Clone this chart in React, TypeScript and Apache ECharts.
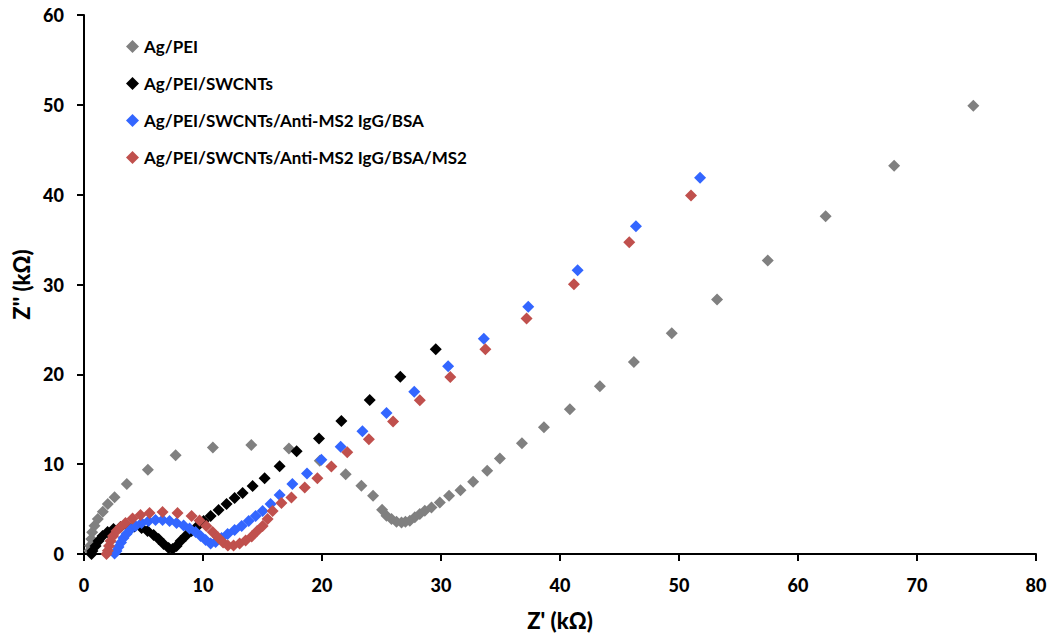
import React, { useEffect, useRef } from "react";
import * as echarts from "echarts";

const seriesNames = [
  "Ag/PEI",
  "Ag/PEI/SWCNTs",
  "Ag/PEI/SWCNTs/Anti-MS2 IgG/BSA",
  "Ag/PEI/SWCNTs/Anti-MS2 IgG/BSA/MS2",
];
const seriesColors = ["#808080", "#000000", "#3366FF", "#C0504D"];

const xTicks = [0, 10, 20, 30, 40, 50, 60, 70, 80];
const yTicks = [0, 10, 20, 30, 40, 50, 60];

const agPei: [number, number][] = [
  [0.46, 0.37], [0.52, 0.92], [0.61, 1.67], [0.69, 2.41], [0.88, 3.14], [1.16, 3.89],
  [1.58, 4.7], [2.0, 5.56], [2.57, 6.33], [3.6, 7.78], [5.37, 9.37], [7.7, 11.0],
  [10.83, 11.86], [14.06, 12.14], [17.22, 11.74], [19.81, 10.37], [21.99, 8.89],
  [23.31, 7.59], [24.29, 6.48], [25.05, 4.92], [25.42, 4.26], [25.84, 3.89],
  [26.26, 3.59], [26.68, 3.52], [27.01, 3.59], [27.38, 3.7], [27.8, 4.08],
  [28.22, 4.44], [28.64, 4.81], [29.2, 5.19], [29.9, 5.74], [30.68, 6.48],
  [31.64, 7.11], [32.7, 8.03], [33.88, 9.26], [34.95, 10.63], [36.8, 12.33],
  [38.65, 14.11], [40.83, 16.11], [43.35, 18.67], [46.21, 21.37], [49.39, 24.56],
  [53.2, 28.33], [57.46, 32.67], [62.32, 37.61], [68.08, 43.22], [74.73, 49.91],
];

const agPeiSwcnt: [number, number][] = [
  [0.63, 0.0], [0.71, 0.33], [0.97, 0.89], [1.22, 1.44], [1.56, 2.0], [1.98, 2.44],
  [2.48, 2.78], [3.07, 3.0], [3.66, 3.11], [4.25, 3.06], [4.84, 2.89], [5.34, 2.56],
  [5.85, 2.11], [6.27, 1.67], [6.69, 1.11], [7.11, 0.67], [7.44, 0.56], [7.78, 0.89],
  [8.12, 1.44], [8.54, 2.0], [9.04, 2.56], [9.55, 3.11], [10.05, 3.67], [10.64, 4.22],
  [11.31, 4.89], [11.98, 5.56], [12.66, 6.22], [13.33, 6.78], [14.17, 7.56],
  [15.18, 8.44], [16.44, 9.78], [17.87, 11.44], [19.75, 12.86], [21.63, 14.81],
  [24.01, 17.14], [26.58, 19.72], [29.56, 22.78],
];

const agPeiSwcntBsa: [number, number][] = [
  [2.57, 0.05], [2.73, 0.33], [2.9, 0.78], [3.11, 1.28], [3.32, 1.78], [3.57, 2.22],
  [3.91, 2.72], [4.33, 3.11], [4.84, 3.44], [5.42, 3.67], [6.01, 3.78], [6.6, 3.78],
  [7.19, 3.67], [7.78, 3.44], [8.37, 3.17], [8.87, 2.83], [9.38, 2.44], [9.8, 2.0],
  [10.22, 1.56], [10.64, 1.17], [11.06, 1.33], [11.56, 1.78], [12.07, 2.22],
  [12.66, 2.67], [13.25, 3.11], [13.84, 3.67], [14.42, 4.22], [15.01, 4.78],
  [15.68, 5.56], [16.44, 6.56], [17.51, 7.78], [18.74, 8.97], [19.95, 10.48],
  [21.57, 11.94], [23.4, 13.67], [25.42, 15.7], [27.75, 18.06], [30.6, 20.89],
  [33.6, 23.97], [37.33, 27.52], [41.48, 31.59], [46.38, 36.48], [51.77, 41.89],
];

const agPeiSwcntBsaMs2: [number, number][] = [
  [1.89, 0.0], [2.0, 0.37], [2.1, 0.89], [2.23, 1.44], [2.44, 2.0], [2.73, 2.56],
  [3.07, 3.0], [3.49, 3.44], [4.08, 3.94], [4.75, 4.33], [5.51, 4.56], [6.6, 4.67],
  [7.86, 4.56], [9.04, 4.22], [9.71, 3.72], [10.28, 3.11], [10.81, 2.44],
  [11.27, 1.83], [11.69, 1.28], [12.09, 0.94], [12.57, 0.94], [13.08, 1.17],
  [13.58, 1.5], [14.09, 1.94], [14.55, 2.56], [15.01, 3.11], [15.43, 3.89],
  [15.85, 4.78], [16.59, 5.67], [17.43, 6.3], [18.55, 7.41], [19.61, 8.44],
  [20.79, 9.74], [22.12, 11.33], [23.94, 12.78], [25.97, 14.74], [28.22, 17.11],
  [30.78, 19.69], [33.73, 22.78], [37.19, 26.22], [41.17, 30.03], [45.82, 34.7],
  [51.01, 39.92],
];

const allData = [agPei, agPeiSwcnt, agPeiSwcntBsa, agPeiSwcntBsaMs2];

const FONT = "Lato";

export default function App() {
  const ref = useRef<HTMLDivElement>(null);
  useEffect(() => {
    document.body.style.margin = "0";
    if (!ref.current) return;
    const chart = echarts.init(ref.current, undefined, { renderer: "svg" });
    const labelCommon = {
      fontFamily: FONT,
      fontWeight: 900,
      fontSize: 18,
      color: "#000",
    };
    const nameStyle = { fontFamily: FONT, fontWeight: 900, fontSize: 22, color: "#000" };
    const tick = { show: true, length: 7, lineStyle: { color: "#000", width: 2 } };
    const line = { show: true, lineStyle: { color: "#000", width: 2 } };
    chart.setOption({
      animation: false,
      backgroundColor: "#fff",
      textStyle: { fontFamily: FONT },
      grid: { left: 84, right: 26, top: 15, bottom: 81 },
      legend: {
        orient: "vertical",
        left: 121,
        top: 33,
        itemGap: 20,
        itemWidth: 13,
        itemHeight: 13,
        icon: "diamond",
        data: seriesNames,
        textStyle: { fontFamily: FONT, fontWeight: "bold", fontSize: 17, color: "#000" },
      },
      xAxis: {
        type: "value",
        min: xTicks[0],
        max: xTicks[xTicks.length - 1],
        interval: 10,
        name: "Z' (kΩ)",
        nameLocation: "middle",
        nameGap: 55,
        nameTextStyle: nameStyle,
        axisLine: line,
        axisTick: tick,
        splitLine: { show: false },
        axisLabel: {
          ...labelCommon,
          margin: 22,
          formatter: (v: number) => (xTicks.includes(v) ? String(v) : ""),
        },
      },
      yAxis: {
        type: "value",
        min: yTicks[0],
        max: yTicks[yTicks.length - 1],
        interval: 10,
        name: "Z'' (kΩ)",
        nameLocation: "middle",
        nameGap: 52,
        nameTextStyle: nameStyle,
        axisLine: line,
        axisTick: tick,
        splitLine: { show: false },
        axisLabel: {
          ...labelCommon,
          margin: 20,
          formatter: (v: number) => (yTicks.includes(v) ? String(v) : ""),
        },
      },
      series: seriesNames.map((name, i) => ({
        name,
        type: "scatter",
        symbol: "diamond",
        symbolSize: 12,
        data: allData[i],
        itemStyle: { color: seriesColors[i], opacity: 1 },
      })),
    });
    return () => chart.dispose();
  }, []);
  return <div ref={ref} style={{ width: 1062, height: 636 }} />;
}
